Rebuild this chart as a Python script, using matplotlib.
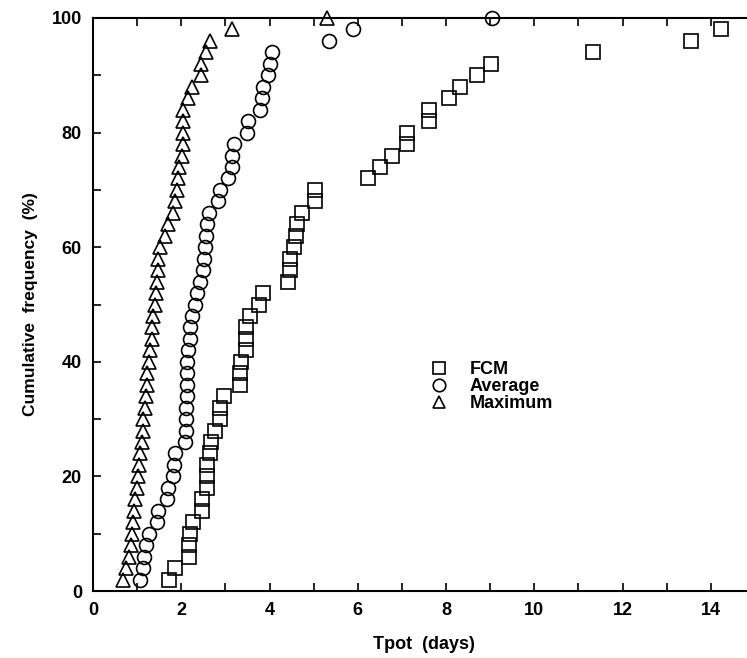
import numpy as np
import matplotlib
matplotlib.use('Agg')
import matplotlib.pyplot as plot

# Cumulative frequency levels (%) - each point is one case (2 % per case)
freq = np.arange(2, 101, 2)

# Tpot (days), sorted, one per frequency level
tpot_fcm = [1.73, 1.86, 2.17, 2.18, 2.19, 2.26, 2.46, 2.47, 2.58, 2.58,
            2.58, 2.66, 2.67, 2.77, 2.87, 2.87, 2.96, 3.34, 3.34, 3.36,
            3.47, 3.47, 3.47, 3.56, 3.75, 3.85, 4.42, 4.47, 4.47, 4.55,
            4.61, 4.62, 4.73, 5.04, 5.04, 6.22, 6.51, 6.78, 7.12, 7.12,
            7.61, 7.61, 8.06, 8.31, 8.71, 9.01, 11.34, 13.55, 14.24]
tpot_avg = [1.07, 1.13, 1.15, 1.19, 1.27, 1.45, 1.47, 1.67, 1.69, 1.82,
            1.84, 1.86, 2.09, 2.11, 2.11, 2.11, 2.13, 2.13, 2.13, 2.14,
            2.16, 2.19, 2.20, 2.24, 2.32, 2.35, 2.43, 2.50, 2.52, 2.54,
            2.56, 2.58, 2.62, 2.84, 2.88, 3.07, 3.15, 3.15, 3.20, 3.49,
            3.52, 3.79, 3.83, 3.86, 3.96, 4.00, 4.05, 5.34, 5.89, 9.04]
tpot_max = [0.67, 0.74, 0.81, 0.85, 0.88, 0.90, 0.93, 0.96, 0.99, 1.02,
            1.05, 1.07, 1.10, 1.13, 1.14, 1.18, 1.20, 1.22, 1.23, 1.26,
            1.30, 1.33, 1.33, 1.35, 1.40, 1.43, 1.44, 1.48, 1.48, 1.52,
            1.63, 1.69, 1.82, 1.86, 1.90, 1.93, 1.94, 2.01, 2.03, 2.03,
            2.03, 2.05, 2.16, 2.24, 2.44, 2.44, 2.56, 2.64, 3.15, 5.30]

x_major = np.arange(0, 15, 2)
x_minor = np.arange(0, 16, 1)
y_major = np.arange(0, 101, 20)
y_minor = np.arange(0, 101, 10)

plot.rcParams['font.family'] = 'Liberation Sans'
plot.rcParams['font.weight'] = 'bold'

fig = plot.figure(figsize=(7.47, 6.58), dpi=100)
ax = fig.add_axes([93 / 747, 67 / 658, 662 / 747, 573 / 658])

mk = dict(linestyle='none', markerfacecolor='none', markeredgecolor='black',
          markeredgewidth=1.2, markersize=10, clip_on=False)
ax.plot(tpot_fcm, freq[:len(tpot_fcm)], marker='s', label='FCM', **mk)
ax.plot(tpot_avg, freq, marker='o', label='Average', **mk)
ax.plot(tpot_max, freq, marker='^', label='Maximum', **mk)

ax.set_xlim(0, 15)
ax.set_ylim(0, 100)
ax.set_xticks(x_major)
ax.set_xticks(x_minor, minor=True)
ax.set_yticks(y_major)
ax.set_yticks(y_minor, minor=True)
ax.tick_params(which='both', direction='in', length=6, width=1.2,
               top=True, right=True, labelsize=13, pad=8)
for s in ax.spines.values():
    s.set_linewidth(1.5)

ax.set_xlabel('Tpot  (days)', fontsize=13, fontweight='bold', labelpad=12)
ax.set_ylabel('Cumulative  frequency  (%)', fontsize=12.5, fontweight='bold', labelpad=10)

leg = ax.legend(loc='upper left', bbox_to_anchor=(0.495, 0.417), frameon=False,
                fontsize=13, handlelength=1.0, handletextpad=1.2,
                labelspacing=0.0, borderpad=0, markerscale=0.9)

fig.savefig('out.png', dpi=100)
